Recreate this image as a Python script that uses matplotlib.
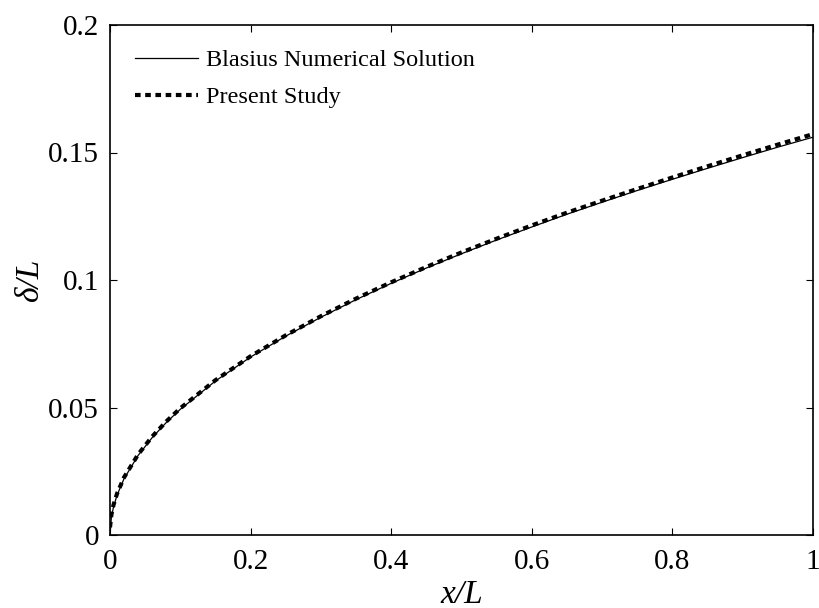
import matplotlib
matplotlib.use("Agg")
import matplotlib.pyplot as plt

x_blasius = [0, 0.002, 0.005, 0.01, 0.02, 0.04, 0.06, 0.08, 0.1, 0.15, 0.2, 0.25, 0.3, 0.35,
             0.4, 0.45, 0.5, 0.55, 0.6, 0.65, 0.7, 0.75, 0.8, 0.85, 0.9, 0.95, 1.0]
y_blasius = [0, 0.0070, 0.0110, 0.0156, 0.0221, 0.0312, 0.0382, 0.0441, 0.0493, 0.0604,
             0.0698, 0.0780, 0.0854, 0.0923, 0.0987, 0.1047, 0.1103, 0.1157, 0.1208,
             0.1258, 0.1305, 0.1351, 0.1395, 0.1438, 0.1480, 0.1521, 0.1560]

x_present = [0, 0.002, 0.005, 0.01, 0.02, 0.04, 0.06, 0.08, 0.1, 0.15, 0.2, 0.25, 0.3, 0.35,
             0.4, 0.45, 0.5, 0.55, 0.6, 0.65, 0.7, 0.75, 0.8, 0.85, 0.9, 0.95, 1.0]
y_present = [0.003, 0.0080, 0.0118, 0.0162, 0.0226, 0.0316, 0.0386, 0.0445, 0.0497, 0.0607,
             0.0701, 0.0783, 0.0858, 0.0927, 0.0991, 0.1051, 0.1108, 0.1162, 0.1214,
             0.1264, 0.1311, 0.1357, 0.1402, 0.1446, 0.1489, 0.1531, 0.1572]

xticks = [0, 0.2, 0.4, 0.6, 0.8, 1]
xticklabels = ["0", "0.2", "0.4", "0.6", "0.8", "1"]
yticks = [0, 0.05, 0.1, 0.15, 0.2]
yticklabels = ["0", "0.05", "0.1", "0.15", "0.2"]

plt.rcParams['font.family'] = ['Liberation Serif', 'DejaVu Serif']

fig = plt.figure(figsize=(8.2, 6.08), dpi=100)
ax = fig.add_axes([110/820, 73/608, 703/820, 510/608])

ax.plot(x_blasius, y_blasius, color='black', linewidth=0.9, label='Blasius Numerical Solution')
ax.plot(x_present, y_present, color='black', linewidth=3.0, linestyle=(0, (1.35, 1.1)),
        label='Present Study')

ax.set_xlim(0, 1)
ax.set_ylim(0, 0.2)
ax.set_xticks(xticks)
ax.set_xticklabels(xticklabels)
ax.set_yticks(yticks)
ax.set_yticklabels(yticklabels)
ax.tick_params(direction='in', length=5, width=0.8, top=True, right=True,
               labelsize=21, pad=8)
ax.tick_params(axis='x', pad=10)
for s in ax.spines.values():
    s.set_linewidth(1.2)

ax.set_xlabel('x/L', fontsize=24, style='italic', labelpad=3)
ax.set_ylabel('δ/L', fontsize=24, style='italic', labelpad=2)

leg = ax.legend(loc='upper left', frameon=False, fontsize=17.5, handlelength=2.6,
                handletextpad=0.35, labelspacing=0.6, borderaxespad=0.5,
                bbox_to_anchor=(0.004, 0.995))

fig.savefig('out.png', dpi=100)
